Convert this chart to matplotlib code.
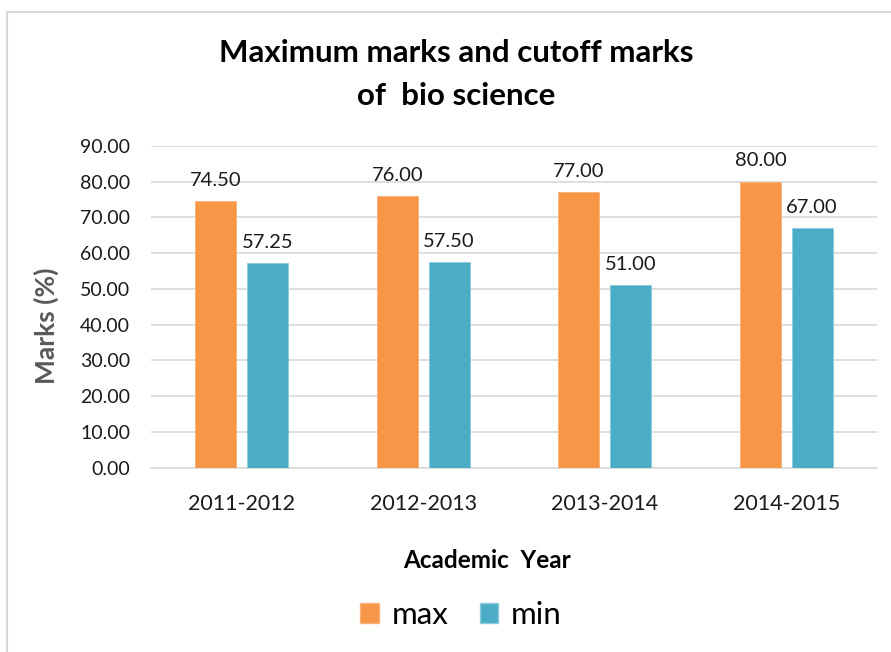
import matplotlib.pyplot as plt
from matplotlib.lines import Line2D
from matplotlib.patches import Patch
import numpy as np

# data
years = ["2011-2012", "2012-2013", "2013-2014", "2014-2015"]
max_marks = [74.50, 76.00, 77.00, 80.00]
min_marks = [57.25, 57.50, 51.00, 67.00]

orange = "#F79646"
blue = "#4BACC6"
grid_col = "#D9D9D9"

plt.rcParams['font.family'] = ['Lato', 'DejaVu Sans']

W, H = 891, 652
fig = plt.figure(figsize=(W / 100, H / 100), dpi=100, facecolor="white")

# axes placed in pixel terms
ax = fig.add_axes([151 / W, (H - 467.7) / H, (877 - 151) / W, (467.7 - 146) / H])

x = np.arange(len(years))
bw = 0.226
off = 0.142
b1 = ax.bar(x - off, max_marks, bw, color=orange, edgecolor="#FAB07A", linewidth=0.6, zorder=3)
b2 = ax.bar(x + off, min_marks, bw, color=blue, edgecolor="#8CCBDD", linewidth=0.6, zorder=3)

for bars, vals in ((b1, max_marks), (b2, min_marks)):
    for r, v in zip(bars, vals):
        ax.annotate(f"{v:.2f}", (r.get_x() + r.get_width() / 2, v),
                    xytext=(0, 9), textcoords="offset points",
                    ha="center", va="bottom", fontsize=14.5, color="#1a1a1a")

ax.set_xlim(-0.5, 3.5)
ax.set_ylim(0, 90)
ax.set_yticks(np.arange(0, 91, 10))
ax.set_yticklabels([f"{t:.2f}" for t in np.arange(0, 91, 10)])
ax.set_xticks(x)
ax.set_xticklabels(years)
ax.tick_params(axis="y", length=0, pad=15, labelsize=14, labelcolor="#1a1a1a")
ax.tick_params(axis="x", length=0, pad=19, labelsize=15.5, labelcolor="#1a1a1a")
ax.yaxis.grid(True, color=grid_col, linewidth=1.2, zorder=0)
ax.set_axisbelow(True)
for s in ["top", "right", "left"]:
    ax.spines[s].set_visible(False)
ax.spines["bottom"].set_color(grid_col)
ax.spines["bottom"].set_linewidth(1.2)

# title and axis titles
fig.text(456 / W, 1 - 53 / H, "Maximum marks and cutoff marks", ha="center", va="center",
         fontsize=22.5, fontweight="bold", color="black")
fig.text(456 / W, 1 - 96 / H, "of  bio science", ha="center", va="center",
         fontsize=22.5, fontweight="bold", color="black")
fig.text(46 / W, 1 - 326 / H, "Marks (%)", rotation=90, ha="center", va="center",
         fontsize=19, fontweight="bold", color="#595959")
fig.text(487 / W, 1 - 560 / H, "Academic  Year", ha="center", va="center",
         fontsize=17.5, fontweight="bold", color="black")

# legend under the chart
handles = [Patch(facecolor=orange, edgecolor="#FAB07A"), Patch(facecolor=blue, edgecolor="#8CCBDD")]
fig.legend(handles, ["max", "min"], loc="center", bbox_to_anchor=(461 / W, 1 - 615 / H),
           ncol=2, frameon=False, fontsize=22.5, handlelength=0.6, handleheight=0.6,
           handletextpad=0.4, columnspacing=1.0)

# chart border (only top and left visible)
fig.add_artist(Line2D([7 / W, 1], [1 - 12 / H, 1 - 12 / H], color=grid_col, linewidth=1.5))
fig.add_artist(Line2D([7 / W, 7 / W], [0, 1 - 12 / H], color=grid_col, linewidth=1.5))

fig.savefig("out.png", dpi=100, facecolor="white")
